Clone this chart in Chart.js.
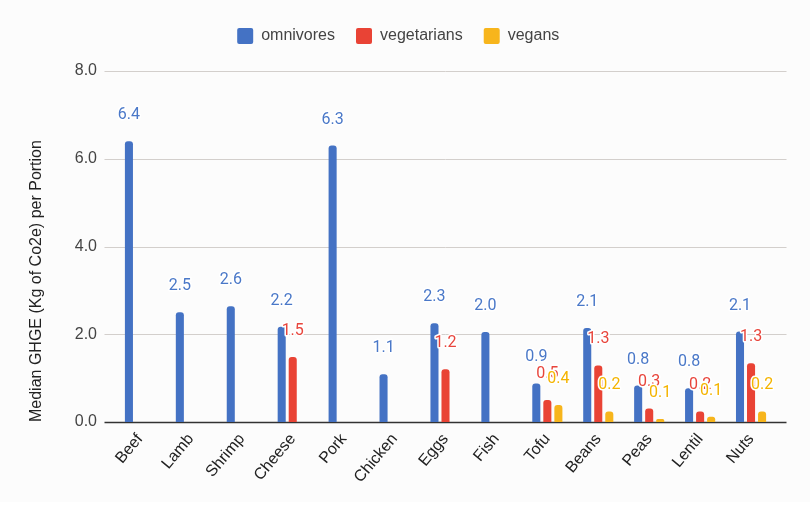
<!DOCTYPE html>
<html>
<head>
<meta charset="utf-8">
<script src="https://cdn.jsdelivr.net/npm/chart.js@4.4.1/dist/chart.umd.min.js"></script>
<style>
  html, body { margin: 0; padding: 0; background: #ffffff; }
  #wrap { width: 810px; height: 508px; }
</style>
</head>
<body>
<div id="wrap"><canvas id="c" width="810" height="508"></canvas></div>
<script>
const categories = ["Beef", "Lamb", "Shrimp", "Cheese", "Pork", "Chicken", "Eggs", "Fish", "Tofu", "Beans", "Peas", "Lentil", "Nuts"];
const omnivores = [6.4, 2.5, 2.64, 2.17, 6.3, 1.09, 2.25, 2.05, 0.88, 2.14, 0.83, 0.77, 2.06];
const vegetarians = [null, null, null, 1.48, null, null, 1.2, null, 0.5, 1.29, 0.31, 0.24, 1.34];
const vegans = [null, null, null, null, null, null, null, null, 0.39, 0.24, 0.07, 0.12, 0.24];
const yTicks = [0, 2, 4, 6, 8];
const seriesNames = ["omnivores", "vegetarians", "vegans"];

const barColors = ["#4472c4", "#e94335", "#f7b51c"];
const labelColors = ["#4a78c8", "#e8453c", "#f4b400"];
const FONT = "'Liberation Sans', Arial, sans-serif";

const bgPlugin = {
  id: 'bg',
  beforeDraw(chart) {
    const ctx = chart.ctx;
    ctx.save();
    ctx.fillStyle = '#fcfcfc';
    ctx.fillRect(0, 0, chart.width, 502);
    ctx.restore();
  }
};

const gridPlugin = {
  id: 'customGrid',
  beforeDatasetsDraw(chart) {
    const ctx = chart.ctx;
    const y = chart.scales.y;
    const a = chart.chartArea;
    ctx.save();
    yTicks.forEach(v => {
      const py = Math.round(y.getPixelForValue(v)) + 0.5;
      ctx.beginPath();
      ctx.moveTo(a.left - 10, py);
      ctx.lineTo(a.right + 10, py);
      if (v === 0) { ctx.strokeStyle = '#333333'; ctx.lineWidth = 1.5; }
      else { ctx.strokeStyle = '#d3cfcc'; ctx.lineWidth = 1; }
      ctx.stroke();
    });
    ctx.restore();
  }
};

const labelPlugin = {
  id: 'valueLabels',
  afterDatasetsDraw(chart) {
    const ctx = chart.ctx;
    ctx.save();
    ctx.font = '16px Roboto';
    ctx.textAlign = 'center';
    ctx.textBaseline = 'middle';
    ctx.lineJoin = 'round';
    chart.data.datasets.forEach((ds, di) => {
      const meta = chart.getDatasetMeta(di);
      meta.data.forEach((el, i) => {
        const v = ds.data[i];
        if (v === null || v === undefined) return;
        const txt = v.toFixed(1);
        const x = el.x, yy = el.y - 26;
        ctx.strokeStyle = '#ffffff';
        ctx.lineWidth = 3;
        ctx.strokeText(txt, x, yy);
        ctx.fillStyle = labelColors[di];
        ctx.fillText(txt, x, yy);
      });
    });
    ctx.restore();
  }
};

const datasets = [omnivores, vegetarians, vegans].map((d, i) => ({
  label: seriesNames[i],
  data: d,
  backgroundColor: barColors[i],
  borderRadius: 3,
  categoryPercentage: 0.65,
  barPercentage: 0.73
}));

new Chart(document.getElementById('c'), {
  type: 'bar',
  data: { labels: categories, datasets: datasets },
  options: {
    responsive: false,
    animation: false,
    layout: { padding: { top: 7, left: 20, right: 33.5, bottom: 0 } },
    plugins: {
      legend: {
        position: 'top',
        labels: {
          font: { family: FONT, size: 16 },
          color: '#444444',
          boxWidth: 16,
          boxHeight: 16,
          padding: 21,
          useBorderRadius: true,
          borderRadius: 2
        }
      },
      title: {
        display: true,
        text: '',
        weight: 10,
        font: { size: 10 },
        padding: { top: 0, bottom: 5 }
      },
      tooltip: { enabled: false }
    },
    scales: {
      x: {
        grid: { display: false, drawTicks: false },
        border: { display: false },
        ticks: {
          autoSkip: false,
          minRotation: 50,
          maxRotation: 50,
          padding: 8,
          color: '#222222',
          font: { family: FONT, size: 16 }
        },
        afterFit(scale) { scale.height = 86; }
      },
      y: {
        min: 0,
        max: 8,
        afterBuildTicks(scale) { scale.ticks = yTicks.map(v => ({ value: v })); },
        grid: { display: false, drawTicks: false },
        border: { display: false },
        ticks: {
          padding: 17.5,
          color: '#444444',
          font: { family: FONT, size: 16 },
          callback: v => Number(v).toFixed(1)
        },
        title: {
          display: true,
          text: 'Median GHGE (Kg of Co2e) per Portion',
          align: 'start',
          color: '#222222',
          font: { family: FONT, size: 16 },
          padding: { top: 7, bottom: 0 }
        },
        afterFit(scale) { scale.width = 94.5; }
      }
    }
  },
  plugins: [bgPlugin, gridPlugin, labelPlugin]
});
</script>
</body>
</html>
